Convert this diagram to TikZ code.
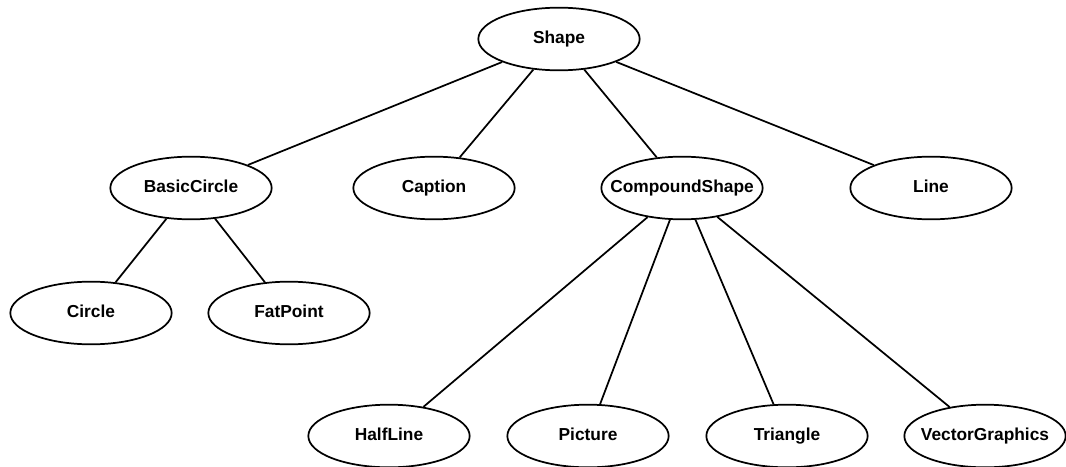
\documentclass[tikz,border=0pt]{standalone}
\usepackage{fontspec}
\setmainfont{Liberation Sans}
\usetikzlibrary{shapes.geometric}

\begin{document}
\begin{tikzpicture}[x=0.75pt,y=-0.75pt,
  cls/.style={draw,ellipse,line width=1.3pt,minimum width=121pt,minimum height=47pt,
    inner xsep=-30pt,inner ysep=0pt,text height=0.8em,text depth=0.08em,
    font=\bfseries\fontsize{13}{15}\selectfont},
  edge/.style={line width=1.3pt}]
  \useasboundingbox (0,0) rectangle (1066,467);
  % top
  \node[cls] (shape) at (559,39){Shape};
  % middle row
  \node[cls] (basic)    at (191,188){BasicCircle};
  \node[cls] (caption)  at (434,188){Caption};
  \node[cls] (compound) at (682,188){CompoundShape};
  \node[cls] (line)     at (931,188){Line};
  % leaves
  \node[cls] (circle)   at (91,313){Circle};
  \node[cls] (fatpoint) at (289,313){FatPoint};
  \node[cls] (halfline) at (389,436){HalfLine};
  \node[cls] (picture)  at (588,436){Picture};
  \node[cls] (triangle) at (787,436){Triangle};
  \node[cls] (vector)   at (985,436){VectorGraphics};
  \foreach \a/\b in {shape/basic,shape/caption,shape/compound,shape/line,
                     basic/circle,basic/fatpoint,
                     compound/halfline,compound/picture,compound/triangle,compound/vector}
    {\draw[edge] (\a)--(\b);}
\end{tikzpicture}
\end{document}
